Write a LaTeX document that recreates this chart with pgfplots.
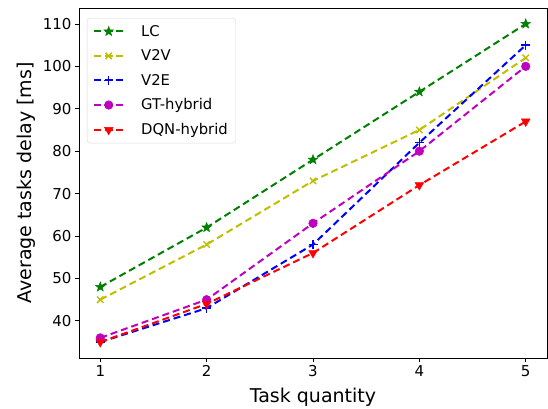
\documentclass[border=0pt]{standalone}
\usepackage{fontspec}
\setmainfont{DejaVu Sans}
\usepackage{pgfplots}
\pgfplotsset{compat=1.18}
\definecolor{mgreen}{rgb}{0,0.5,0}
\definecolor{myellow}{rgb}{0.75,0.75,0}
\definecolor{mmag}{rgb}{0.75,0,0.75}
% filled five-pointed star, like matplotlib's '*'
\pgfdeclareplotmark{fstar}{%
  \pgfpathmoveto{\pgfqpointpolar{90}{\pgfplotmarksize}}%
  \pgfpathlineto{\pgfqpointpolar{126}{0.42\pgfplotmarksize}}%
  \pgfpathlineto{\pgfqpointpolar{162}{\pgfplotmarksize}}%
  \pgfpathlineto{\pgfqpointpolar{198}{0.42\pgfplotmarksize}}%
  \pgfpathlineto{\pgfqpointpolar{234}{\pgfplotmarksize}}%
  \pgfpathlineto{\pgfqpointpolar{270}{0.42\pgfplotmarksize}}%
  \pgfpathlineto{\pgfqpointpolar{306}{\pgfplotmarksize}}%
  \pgfpathlineto{\pgfqpointpolar{342}{0.42\pgfplotmarksize}}%
  \pgfpathlineto{\pgfqpointpolar{18}{\pgfplotmarksize}}%
  \pgfpathlineto{\pgfqpointpolar{54}{0.42\pgfplotmarksize}}%
  \pgfpathclose
  \pgfusepathqfillstroke
}
\tikzset{dl/.style={line width=2pt, dash pattern=on 7pt off 4pt}}
\begin{document}
\begin{tikzpicture}
\begin{axis}[
    scale only axis,
    width=468pt, height=350pt,
    xmin=0.8, xmax=5.2,
    ymin=31.25, ymax=113.75,
    xtick={1,2,3,4,5},
    ytick={40,50,60,70,80,90,100,110},
    tick align=outside,
    tick pos=left,
    major tick length=4pt,
    tick style={black, line width=0.8pt},
    axis line style={line width=0.8pt},
    ticklabel style={font=\fontsize{15}{17}\selectfont},
    /pgf/number format/assume math mode=true,
    xlabel={Task quantity},
    ylabel={Average tasks delay [ms]},
    every axis x label/.style={at={(axis description cs:0.5,0)}, yshift=-39.5pt, anchor=center,
        font=\fontsize{19}{21}\selectfont},
    every axis y label/.style={at={(axis description cs:0,0.5)}, xshift=-53pt, rotate=90, anchor=center,
        font=\fontsize{19}{21}\selectfont},
    legend cell align=left,
    legend style={font=\fontsize{14.8}{17}\selectfont, draw=black!15, rounded corners=3pt,
        at={(axis description cs:0,1)}, xshift=8pt, yshift=-10pt, anchor=north west,
        row sep=8pt, column sep=15pt, inner xsep=6pt, inner ysep=5pt},
    legend image code/.code={
        \draw[mark repeat=2, mark phase=2] plot coordinates {(0pt,0pt) (14.5pt,0pt) (29pt,0pt)};
    },
]
\addplot[mgreen, dl, mark=fstar, mark size=5pt, mark options={solid, line width=0.5pt, fill=mgreen}] coordinates {
    (1,48) (2,62) (3,78) (4,94) (5,110)
};
\addplot[myellow, dl, mark=x, mark size=4.5pt, mark options={solid, line width=1.5pt}] coordinates {
    (1,45) (2,58) (3,73) (4,85) (5,102)
};
\addplot[blue, dl, mark=+, mark size=4.5pt, mark options={solid, line width=1.5pt}] coordinates {
    (1,35) (2,43) (3,58) (4,82) (5,105)
};
\addplot[mmag, dl, mark=*, mark size=4.3pt, mark options={solid, fill=mmag, line width=0.5pt}] coordinates {
    (1,36) (2,45) (3,63) (4,80) (5,100)
};
\addplot[red, dl, mark=triangle*, mark size=5pt, mark options={solid, fill=red, rotate=180, line width=0.5pt}] coordinates {
    (1,35) (2,44) (3,56) (4,72) (5,87)
};
\legend{LC, V2V, V2E, GT-hybrid, DQN-hybrid}
\end{axis}
\pgfresetboundingbox
\path (current axis.south west) ++(-79pt,-50pt) rectangle ++(548pt,408pt);
\end{tikzpicture}
\end{document}
